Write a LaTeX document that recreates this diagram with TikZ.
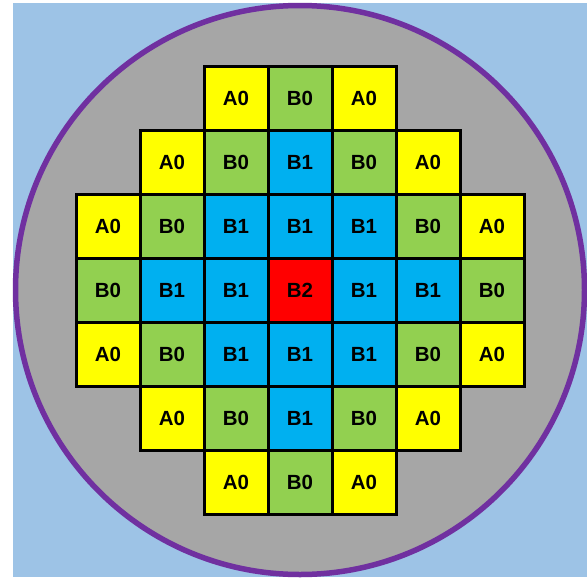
\documentclass[tikz,border=0pt]{standalone}
\usepackage{fontspec}
\setmainfont{Liberation Sans}
\definecolor{bgblue}{HTML}{9DC3E6}
\definecolor{wafer}{HTML}{A6A6A6}
\definecolor{rim}{HTML}{7030A0}
\definecolor{cA}{HTML}{FFFF00}
\definecolor{cB}{HTML}{92D050}
\definecolor{cC}{HTML}{00B0F0}
\definecolor{cD}{HTML}{FF0000}
\begin{document}
\begin{tikzpicture}[x=1pt,y=-1pt,
  cell/.style={draw=black, line width=3pt, minimum size=64pt, inner sep=0pt, font=\fontsize{20.5}{20.5}\selectfont\bfseries},
  a0/.style={cell, fill=cA},
  b0/.style={cell, fill=cB},
  b1/.style={cell, fill=cC},
  b2/.style={cell, fill=cD}]
\useasboundingbox (0,0) rectangle (587,579);
\fill[white] (0,0) rectangle (587,579);
\fill[bgblue] (13,3) rectangle (587,577);
\draw[rim, fill=wafer, line width=5.5pt] (300,290) circle (284.5);
\def\cx{300}\def\cy{290.5}
\foreach \r/\c/\s/\t in {
 0/2/a0/A0, 0/3/b0/B0, 0/4/a0/A0,
 1/1/a0/A0, 1/2/b0/B0, 1/3/b1/B1, 1/4/b0/B0, 1/5/a0/A0,
 2/0/a0/A0, 2/1/b0/B0, 2/2/b1/B1, 2/3/b1/B1, 2/4/b1/B1, 2/5/b0/B0, 2/6/a0/A0,
 3/0/b0/B0, 3/1/b1/B1, 3/2/b1/B1, 3/3/b2/B2, 3/4/b1/B1, 3/5/b1/B1, 3/6/b0/B0,
 4/0/a0/A0, 4/1/b0/B0, 4/2/b1/B1, 4/3/b1/B1, 4/4/b1/B1, 4/5/b0/B0, 4/6/a0/A0,
 5/1/a0/A0, 5/2/b0/B0, 5/3/b1/B1, 5/4/b0/B0, 5/5/a0/A0,
 6/2/a0/A0, 6/3/b0/B0, 6/4/a0/A0}
 \node[\s] (n\r\c) at ({\cx+(\c-3)*64},{\cy+(\r-3)*64}) {\t};
\end{tikzpicture}
\end{document}
